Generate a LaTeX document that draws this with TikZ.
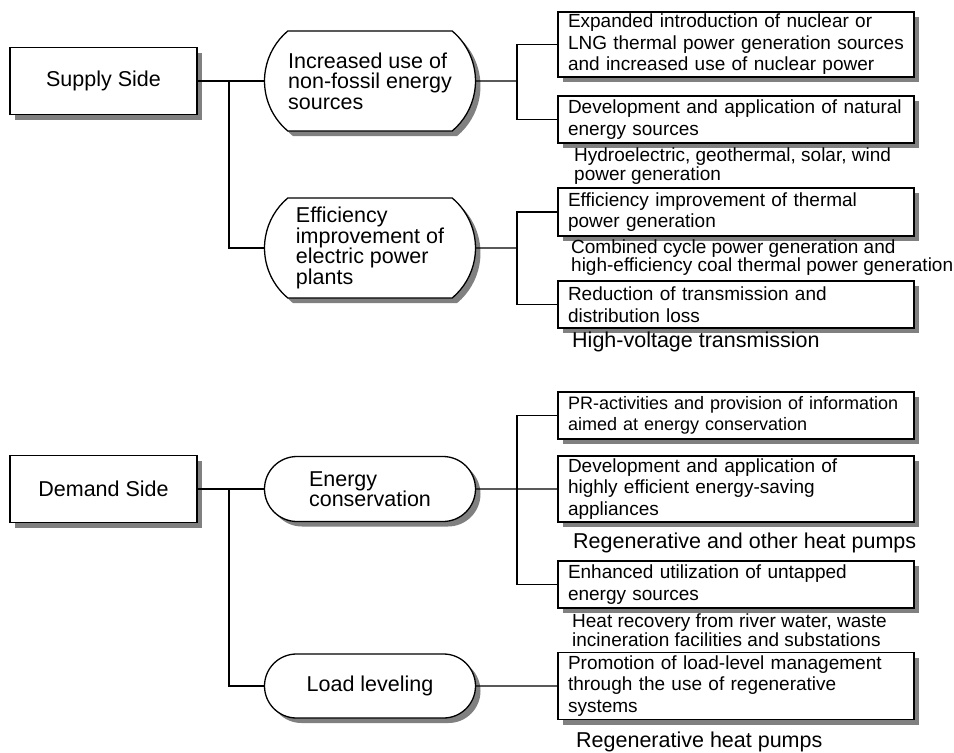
\documentclass[tikz,border=0pt]{standalone}
\usepackage{fontspec}
\setmainfont{Liberation Sans}
\usetikzlibrary{positioning, shapes.misc, shadows}

\begin{document}
\begin{tikzpicture}[x=1pt, y=-1pt,
    % Shadowed frames
    boxed/.style={draw=black, fill=white, line width=1.3pt, drop shadow={shadow xshift=5pt, shadow yshift=-5pt, fill=gray, opacity=1}},
    side/.style={boxed, minimum width=187pt, minimum height=67pt, font=\fontsize{21.5}{21}\selectfont},
    pill/.style={boxed, rounded rectangle, minimum width=215pt, align=left, inner sep=2pt, font=\fontsize{21.5}{20.5}\selectfont},
    tallpill/.style={pill, rounded rectangle arc length=100, minimum height=100pt},
    measure/.style={boxed, text width=336pt, inner xsep=10pt, inner ysep=2pt, align=left, font=\fontsize{19}{21.5}\selectfont},
    % Loose remarks under the frames
    note/.style={anchor=west, inner sep=0pt, align=left, font=\fontsize{19}{15}\selectfont},
    bignote/.style={note, font=\fontsize{21.5}{21}\selectfont},
    link/.style={line width=1.1pt}]

\useasboundingbox (0,0) rectangle (954,753);

% Left column
\node[side] (supply) at (103.5,81) {Supply Side};
\node[side] (demand) at (103.5,489) {Demand Side};

% Middle column
\node[tallpill] (nonfossil) at (370,81) {Increased use of\\non-fossil energy\\sources};
\node[tallpill] (plants) at (370,248) {Efficiency\\improvement of\\electric power\\plants};
\node[pill, minimum height=65pt] (conserve) at (370,489) {Energy\\conservation};
\node[pill, minimum height=64pt] (leveling) at (370,686) {Load leveling};

% Right column
\node[measure, minimum height=65pt] (nuclear) at (736,44.5) {Expanded introduction of nuclear or\\LNG thermal power generation sources\\and increased use of nuclear power};
\node[measure, minimum height=47pt] (natural) at (736,119.5) {Development and application of natural\\energy sources};
\node[measure, minimum height=48pt] (thermal) at (736,212) {Efficiency improvement of thermal\\power generation};
\node[measure, minimum height=47pt] (loss) at (736,304.5) {Reduction of transmission and\\distribution loss};
\node[measure, minimum height=47pt, font=\fontsize{18}{21.5}\selectfont] (pr) at (736,415.5) {PR-activities and provision of information\\aimed at energy conservation};
\node[measure, minimum height=66pt] (appliances) at (736,489) {Development and application of\\highly efficient energy-saving\\appliances};
\node[measure, minimum height=47pt] (untapped) at (736,584.5) {Enhanced utilization of untapped\\energy sources};
\node[measure, minimum height=67pt] (regensys) at (736,686) {Promotion of load-level management\\through the use of regenerative\\systems};

% Remarks
\node[note, font=\fontsize{19}{19}\selectfont] (hydro) at (574,166.5) {Hydroelectric, geothermal, solar, wind\\power generation};
\node[note] (combined) at (571,257.5) {Combined cycle power generation and\\high-efficiency coal thermal power generation};
\node[bignote] (hvtrans) at (572,342) {High-voltage transmission};
\node[bignote] (regenother) at (573,543) {Regenerative and other heat pumps};
\node[note] (heatrec) at (572,630.5) {Heat recovery from river water, waste\\incineration facilities and substations};
\node[bignote] (regenhp) at (576,742) {Regenerative heat pumps};

% Junctions
\coordinate (sj) at (229,81);
\coordinate (dj) at (229,489);
\coordinate (nj) at (517,81);
\coordinate (pj) at (517,248);
\coordinate (cj) at (517,489);

% Connectors
\draw[link] (supply) -- (nonfossil);
\draw[link] (sj) |- (plants);
\draw[link] (demand) -- (conserve);
\draw[link] (dj) |- (leveling);
\draw[link] (nonfossil) -- (nj);
\draw[link] (nuclear.west) -| (nj) |- (natural.west);
\draw[link] (plants) -- (pj);
\draw[link] (thermal.west) -| (pj) |- (loss.west);
\draw[link] (conserve) -- (appliances);
\draw[link] (pr.west) -| (cj) |- (untapped.west);
\draw[link] (leveling) -- (regensys);

\end{tikzpicture}
\end{document}
